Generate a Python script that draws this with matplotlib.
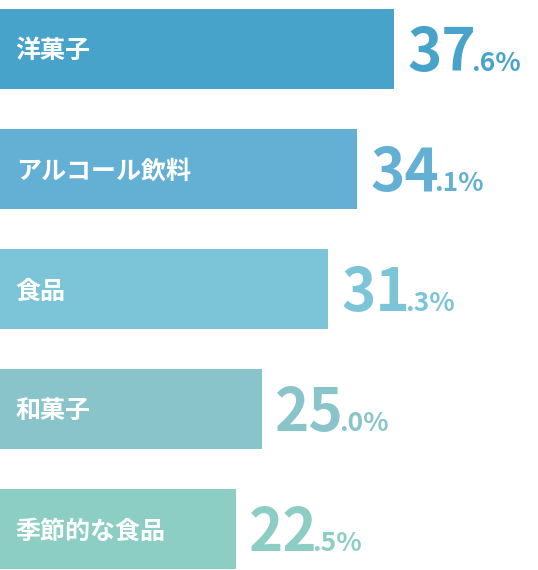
import matplotlib
matplotlib.use("Agg")
import matplotlib.pyplot as plt

plt.rcParams['font.family'] = ['Noto Sans CJK JP', 'DejaVu Sans']

categories = ["洋菓子", "アルコール飲料", "食品", "和菓子", "季節的な食品"]
values = [37.6, 34.1, 31.3, 25.0, 22.5]
colors = ["#48a3ca", "#63b0d4", "#7cc5d8", "#8ac4cb", "#8ccec4"]

fig = plt.figure(figsize=(5.38, 5.70), dpi=100)
ax = fig.add_axes([0, 0, 1, 1])
ax.set_xlim(0, 538 / 10.48)
ax.set_ylim(4.75 - 0.408, -0.408)
ax.axis("off")

ypos = list(range(len(values)))
ax.barh(ypos, values, height=0.667, color=colors)

fig.canvas.draw()
r = fig.canvas.get_renderer()
for y, cat, v, c in zip(ypos, categories, values, colors):
    ax.text(1.5, y + 0.02, cat, color="white", fontsize=18, fontweight="bold",
            va="center", ha="left")
    whole, frac = f"{v:.1f}".split(".")
    t = ax.annotate(whole, (v, y), xytext=(13, -22), textcoords="offset pixels",
                    color=c, fontsize=42, fontweight="bold", va="baseline",
                    ha="left", family=["Noto Sans CJK JP"])
    bb = t.get_window_extent(r)
    ax.annotate("." + frac + "%", (v, y),
                xytext=(13 + bb.width - 5, -22), textcoords="offset pixels",
                color=c, fontsize=19, fontweight="bold", va="baseline",
                ha="left", family=["Noto Sans CJK JP"])

fig.savefig("out.png", dpi=100)
